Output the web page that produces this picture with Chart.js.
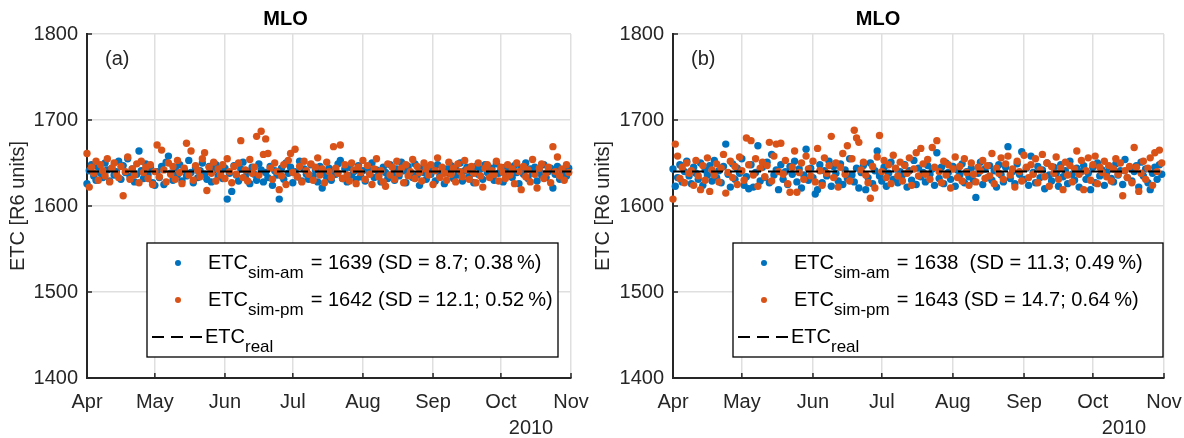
<!DOCTYPE html>
<html>
<head>
<meta charset="utf-8">
<script src="https://cdn.jsdelivr.net/npm/chart.js@4"></script>
<style>
  body { margin: 0; background: #fff; width: 1184px; height: 438px; overflow: hidden; }
  canvas { position: absolute; top: 0; }
</style>
</head>
<body>
<canvas id="chartA" width="592" height="438" style="left:0px"></canvas>
<canvas id="chartB" width="592" height="438" style="left:592px"></canvas>
<script>
// month ticks (days since 1 Apr 2010)
const monthLabels = ["Apr", "May", "Jun", "Jul", "Aug", "Sep", "Oct", "Nov"];
const monthStarts = [0, 30, 61, 91, 122, 153, 183, 214];
const yearLabel = "2010";
const etcReal = 1640;

// panel (a): daily simulated ETC, morning / afternoon
const amA = [
  1626, 1641, 1648, 1635, 1630, 1645, 1638, 1633, 1650, 1642,
  1629, 1644, 1636, 1640, 1652, 1631, 1647, 1639, 1655, 1634,
  1643, 1628, 1637, 1664, 1641, 1632, 1649, 1636, 1645, 1627,
  1624, 1640, 1633, 1646, 1625, 1651, 1658, 1638, 1630, 1644,
  1636, 1648, 1629, 1642, 1635, 1653, 1639, 1627, 1645, 1633,
  1641, 1650, 1637, 1631, 1646, 1628, 1642, 1648, 1635, 1640,
  1632, 1644, 1608, 1638, 1617, 1647, 1636, 1629, 1643, 1651,
  1634, 1640, 1626, 1645, 1637, 1630, 1649, 1642, 1628, 1639,
  1633, 1646, 1624, 1641, 1636, 1608, 1644, 1631, 1650, 1638,
  1645, 1627, 1640, 1634, 1652, 1629, 1643, 1637, 1631, 1648,
  1635, 1642, 1628, 1646, 1621, 1639, 1633, 1644, 1630, 1641,
  1637, 1649, 1653, 1632, 1643, 1628, 1645, 1636, 1640, 1631,
  1647, 1634, 1641, 1629, 1644, 1638, 1650, 1633, 1642, 1636,
  1628, 1645, 1639, 1632, 1648, 1637, 1630, 1643, 1635, 1651,
  1641, 1627, 1646, 1638, 1633, 1649, 1636, 1624, 1644, 1639,
  1631, 1645, 1637, 1642, 1629, 1648, 1635, 1640, 1626, 1643,
  1638, 1647, 1632, 1644, 1636, 1650, 1629, 1641, 1645, 1634,
  1640, 1627, 1646, 1637, 1643, 1631, 1648, 1639, 1635, 1644,
  1630, 1649, 1638, 1642, 1628, 1645, 1636, 1641, 1633, 1647,
  1639, 1626, 1644, 1637, 1650, 1632, 1643, 1638, 1645, 1629,
  1641, 1636, 1648, 1633, 1640, 1644, 1621, 1637, 1646, 1631,
  1642, 1638, 1635, 1644
];
const pmA = [
  1661, 1622, 1645, 1638, 1652, 1630, 1648, 1641, 1635, 1655,
  1628, 1644, 1650, 1637, 1633, 1646, 1612, 1640, 1657, 1631,
  1643, 1636, 1649, 1627, 1652, 1639, 1645, 1632, 1648, 1625,
  1640, 1671, 1634, 1665, 1642, 1628, 1650, 1637, 1646, 1631,
  1653, 1639, 1626, 1644, 1673, 1636, 1664, 1630, 1647, 1641,
  1634, 1655, 1662, 1618, 1645, 1638, 1651, 1629, 1643, 1636,
  1648, 1632, 1655, 1640, 1627, 1646, 1637, 1650, 1676, 1633,
  1642, 1629, 1654, 1638, 1645, 1681, 1636, 1687, 1660, 1678,
  1661, 1644, 1631, 1650, 1640, 1619, 1635, 1648, 1625, 1653,
  1661, 1639, 1666, 1634, 1646, 1628, 1652, 1641, 1637, 1649,
  1630, 1645, 1656, 1636, 1643, 1627, 1651, 1640, 1633, 1669,
  1644, 1638, 1671, 1632, 1648, 1636, 1629, 1650, 1642, 1626,
  1645, 1639, 1653, 1631, 1647, 1637, 1625, 1643, 1655, 1634,
  1641, 1628, 1623, 1649, 1636, 1645, 1631, 1652, 1638, 1644,
  1627, 1648, 1635, 1640, 1654, 1632, 1646, 1639, 1629, 1650,
  1643, 1636, 1648, 1625, 1641, 1656, 1633, 1645, 1638, 1630,
  1651, 1637, 1644, 1628, 1649, 1640, 1634, 1653, 1642, 1631,
  1646, 1638, 1627, 1650, 1635, 1622, 1644, 1648, 1633, 1641,
  1637, 1652, 1629, 1645, 1639, 1632, 1648, 1636, 1643, 1626,
  1650, 1640, 1619, 1646, 1634, 1642, 1628, 1654, 1637, 1621,
  1644, 1649, 1632, 1638, 1645, 1627, 1669, 1640, 1657, 1635,
  1643, 1630, 1648, 1639
];

// panel (b)
const amB = [
  1643, 1623, 1633, 1648, 1628, 1640, 1652, 1635, 1626, 1645,
  1638, 1631, 1650, 1624, 1642, 1636, 1647, 1629, 1653, 1633,
  1641, 1627, 1646, 1672, 1637, 1622, 1649, 1631, 1644, 1638,
  1655, 1624, 1634, 1620, 1648, 1622, 1639, 1670, 1629, 1645,
  1633, 1651, 1627, 1660, 1636, 1642, 1619, 1648, 1631, 1640,
  1625, 1646, 1637, 1652, 1628, 1643, 1621, 1636, 1666, 1630,
  1644, 1633, 1614, 1619, 1648, 1627, 1641, 1635, 1652, 1623,
  1646, 1638, 1629, 1649, 1625, 1642, 1632, 1655, 1636, 1628,
  1644, 1621, 1639, 1647, 1619, 1633, 1650, 1626, 1641, 1664,
  1635, 1629, 1645, 1623, 1638, 1651, 1631, 1643, 1627, 1640,
  1636, 1648, 1622, 1641, 1630, 1653, 1625, 1644, 1634, 1639,
  1628, 1647, 1637, 1643, 1624, 1662, 1632, 1645, 1626, 1650,
  1639, 1631, 1646, 1623, 1642, 1636, 1649, 1627, 1640, 1634,
  1644, 1629, 1610, 1638, 1651, 1625, 1643, 1633, 1647, 1630,
  1641, 1622, 1648, 1636, 1628, 1645, 1669, 1632, 1640, 1626,
  1649, 1637, 1663, 1631, 1644, 1624, 1658, 1639, 1627, 1646,
  1633, 1642, 1620, 1650, 1636, 1629, 1645, 1638, 1623, 1648,
  1634, 1641, 1626, 1652, 1637, 1630, 1644, 1622, 1640, 1647,
  1631, 1638, 1619, 1645, 1627, 1650, 1635, 1642, 1624, 1639,
  1646, 1632, 1628, 1649, 1636, 1641, 1625, 1654, 1633, 1644,
  1629, 1640, 1647, 1622, 1651, 1635, 1643, 1627, 1619, 1638,
  1645, 1631, 1648, 1637
];
const pmB = [
  1608, 1672, 1658, 1632, 1645, 1627, 1650, 1638, 1641, 1624,
  1653, 1635, 1619, 1647, 1630, 1656, 1617, 1642, 1636, 1649,
  1628, 1644, 1660, 1615, 1639, 1652, 1633, 1646, 1625, 1657,
  1641, 1630, 1679, 1648, 1676, 1636, 1655, 1623, 1644, 1651,
  1634, 1647, 1674, 1629, 1658, 1672, 1640, 1673, 1637, 1653,
  1626, 1616, 1645, 1664, 1616, 1639, 1650, 1631, 1658, 1643,
  1635, 1652, 1628, 1667, 1641, 1624, 1656, 1638, 1647, 1681,
  1633, 1650, 1622, 1645, 1661, 1637, 1670, 1629, 1655, 1688,
  1679, 1674, 1642, 1651, 1636, 1627, 1609, 1646, 1621, 1657,
  1682, 1640, 1653, 1633, 1648, 1626, 1659, 1644, 1635, 1651,
  1629, 1647, 1638, 1656, 1624, 1643, 1662, 1635, 1667, 1649,
  1637, 1654, 1631, 1668, 1645, 1676, 1640, 1627, 1652, 1636,
  1648, 1621, 1643, 1657, 1633, 1646, 1629, 1655, 1639, 1624,
  1650, 1637, 1628, 1645, 1641, 1653, 1632, 1647, 1635, 1661,
  1626, 1644, 1638, 1656, 1631, 1649, 1658, 1636, 1643, 1622,
  1652, 1640, 1629, 1659, 1645, 1633, 1648, 1637, 1655, 1627,
  1642, 1660, 1634, 1650, 1623, 1646, 1638, 1657, 1631, 1644,
  1619, 1651, 1636, 1647, 1628, 1643, 1664, 1637, 1653, 1619,
  1641, 1656, 1630, 1648, 1658, 1626, 1645, 1639, 1652, 1634,
  1647, 1629, 1643, 1655, 1637, 1650, 1612, 1641, 1633, 1646,
  1627, 1668, 1645, 1617, 1638, 1652, 1631, 1644, 1656, 1624,
  1662, 1640, 1665, 1650
];

const amLegendA = "= 1639 (SD = 8.7; 0.38\u2009%)";
const pmLegendA = "= 1642 (SD = 12.1; 0.52\u2009%)";
const amLegendB = "= 1638  (SD = 11.3; 0.49\u2009%)";
const pmLegendB = "= 1643 (SD = 14.7; 0.64\u2009%)";

const FONT = '"Liberation Sans", Arial, Helvetica, sans-serif';
const INK = "#262626";
const BLUE = "#0072BD";
const ORANGE = "#D95319";

Chart.defaults.font.family = FONT;
Chart.defaults.color = INK;

// inward ticks, panel tag, year label and the legend box
const decorPlugin = {
  id: "decor",
  afterDatasetsDraw(chart, args, opts) {
    const ctx = chart.ctx;
    const area = chart.chartArea;
    const xs = chart.scales.x;
    const ys = chart.scales.y;
    ctx.save();
    ctx.strokeStyle = INK;
    ctx.lineWidth = 1.5;
    xs.ticks.forEach((t) => {
      const px = xs.getPixelForValue(t.value);
      ctx.beginPath();
      ctx.moveTo(px, area.bottom);
      ctx.lineTo(px, area.bottom - 5);
      ctx.stroke();
    });
    ys.ticks.forEach((t) => {
      const py = ys.getPixelForValue(t.value);
      ctx.beginPath();
      ctx.moveTo(area.left, py);
      ctx.lineTo(area.left + 5, py);
      ctx.stroke();
    });

    ctx.fillStyle = INK;
    ctx.textBaseline = "middle";
    ctx.font = "20px " + FONT;
    ctx.fillText(opts.tag, area.left + 18, 59);
    ctx.textAlign = "center";
    ctx.fillText(yearLabel, area.right - 40, 428);
    ctx.textAlign = "left";

    // legend
    const bx = opts.boxLeft;
    const bw = opts.boxWidth;
    const by = 243;
    const bh = 114;
    ctx.fillStyle = "#fff";
    ctx.fillRect(bx, by, bw, bh);
    ctx.strokeStyle = "#000";
    ctx.lineWidth = 1.3;
    ctx.strokeRect(bx, by, bw, bh);

    const rows = [
      { y: by + 20, color: BLUE, sub: "sim-am", text: opts.amText },
      { y: by + 57, color: ORANGE, sub: "sim-pm", text: opts.pmText },
    ];
    rows.forEach((r) => {
      ctx.fillStyle = r.color;
      ctx.beginPath();
      ctx.arc(bx + 31, r.y, 3, 0, Math.PI * 2);
      ctx.fill();
      drawEtc(ctx, bx + 61, r.y, r.sub, r.text);
    });

    const ly = by + 94;
    ctx.strokeStyle = "#000";
    ctx.lineWidth = 2;
    ctx.setLineDash([12, 7]);
    ctx.beginPath();
    ctx.moveTo(bx + 5, ly);
    ctx.lineTo(bx + 55, ly);
    ctx.stroke();
    ctx.setLineDash([]);
    drawEtc(ctx, bx + 58, ly, "real", "");
    ctx.restore();
  },
};

function drawEtc(ctx, x, y, sub, rest) {
  ctx.fillStyle = "#000";
  ctx.font = "20px " + FONT;
  ctx.fillText("ETC", x, y);
  const w = ctx.measureText("ETC").width;
  ctx.font = "17px " + FONT;
  ctx.fillText(sub, x + w, y + 10);
  const w2 = ctx.measureText(sub).width;
  if (rest) {
    ctx.font = "20px " + FONT;
    ctx.fillText(rest, x + w + w2 + 7, y);
  }
}

function makeChart(id, am, pm, cfg) {
  const toPoints = (vals) => vals.map((v, i) => ({ x: i, y: v }));
  new Chart(document.getElementById(id), {
    type: "scatter",
    data: {
      datasets: [
        {
          type: "line",
          label: "ETC real",
          data: [
            { x: monthStarts[0], y: etcReal },
            { x: monthStarts[monthStarts.length - 1], y: etcReal },
          ],
          borderColor: "#000",
          borderWidth: 2,
          borderDash: [12, 7],
          pointRadius: 0,
          fill: false,
        },
        {
          label: "ETC sim-pm",
          data: toPoints(pm),
          backgroundColor: ORANGE,
          borderWidth: 0,
          pointRadius: 3.7,
          clip: false,
        },
        {
          label: "ETC sim-am",
          data: toPoints(am),
          backgroundColor: BLUE,
          borderWidth: 0,
          pointRadius: 3.7,
          clip: false,
        },
      ],
    },
    options: {
      responsive: false,
      animation: false,
      devicePixelRatio: 1,
      layout: { padding: { left: 0, right: cfg.rightPad, top: 0, bottom: 0 } },
      plugins: {
        legend: { display: false },
        tooltip: { enabled: false },
        title: {
          display: true,
          text: "MLO",
          color: "#000",
          font: { size: 20, weight: "bold" },
          padding: { top: 7, bottom: 3 },
        },
        decor: cfg.decor,
      },
      scales: {
        x: {
          type: "linear",
          min: monthStarts[0],
          max: monthStarts[monthStarts.length - 1],
          afterBuildTicks: (s) => {
            s.ticks = monthStarts.map((v) => ({ value: v }));
          },
          afterFit: (s) => {
            s.height = 60;
            s.paddingLeft = 0;
            s.paddingRight = 0;
          },
          ticks: {
            autoSkip: false,
            maxRotation: 0,
            padding: 12,
            font: { size: 20 },
            color: INK,
            callback: (v) => monthLabels[monthStarts.indexOf(v)],
          },
          grid: { color: "#dfdfdf", lineWidth: 1.5, drawTicks: false },
          border: { color: INK, width: 2 },
        },
        y: {
          min: 1400,
          max: 1800,
          afterFit: (s) => {
            s.width = cfg.axisLeft;
            s.paddingTop = 0;
            s.paddingBottom = 0;
          },
          ticks: {
            stepSize: 100,
            padding: 9,
            font: { size: 20 },
            color: INK,
            callback: (v) => String(v),
          },
          grid: { color: "#dfdfdf", lineWidth: 1.5, drawTicks: false },
          border: { color: INK, width: 2 },
          title: {
            display: true,
            text: "ETC [R6 units]",
            color: INK,
            font: { size: 20, lineHeight: 1 },
            padding: { top: cfg.labelPad, bottom: 0 },
          },
        },
      },
    },
    plugins: [decorPlugin],
  });
}

makeChart("chartA", amA, pmA, {
  axisLeft: 87,
  rightPad: 21,
  labelPad: 8,
  decor: { tag: "(a)", boxLeft: 147, boxWidth: 411, amText: amLegendA, pmText: pmLegendA },
});
makeChart("chartB", amB, pmB, {
  axisLeft: 81,
  rightPad: 20,
  labelPad: 1,
  decor: { tag: "(b)", boxLeft: 141, boxWidth: 430, amText: amLegendB, pmText: pmLegendB },
});
</script>
</body>
</html>
